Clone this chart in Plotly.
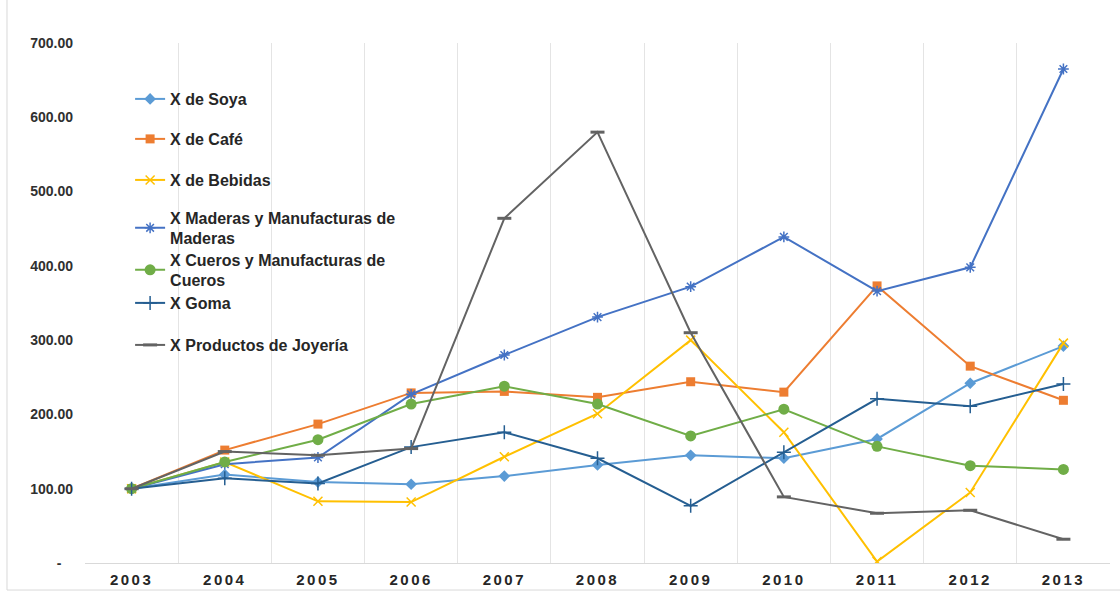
import plotly.graph_objects as go

# Years on the category axis
years = ["2003", "2004", "2005", "2006", "2007", "2008", "2009", "2010", "2011", "2012", "2013"]

# Export index series (2003 = 100)
soya = [100, 119, 109, 106, 117, 132, 145, 141, 167, 242, 292]
cafe = [100, 152, 187, 229, 231, 223, 244, 230, 373, 265, 219]
bebidas = [100, 136, 83, 82, 143, 201, 300, 176, 2, 95, 296]
maderas = [100, 133, 142, 227, 280, 331, 372, 439, 366, 398, 665]
cueros = [100, 136, 166, 214, 238, 214, 171, 207, 157, 131, 126]
goma = [100, 114, 107, 156, 176, 141, 77, 149, 221, 211, 241]
joyeria = [100, 150, 145, 154, 464, 580, 310, 89, 67, 71, 32]

# Y axis ticks
y_ticks = [0, 100, 200, 300, 400, 500, 600, 700]
y_tick_labels = ["-\u00a0\u00a0\u00a0", "100.00", "200.00", "300.00", "400.00", "500.00", "600.00", "700.00"]

series = [
    ("X de Soya", soya, "#5B9BD5", "diamond", 9, 0),
    ("X de Café", cafe, "#ED7D31", "square", 9, 0),
    ("X de Bebidas", bebidas, "#FFC000", "x-thin-open", 9, 1.5),
    ("X Maderas y Manufacturas de<br>Maderas", maderas, "#4472C4", "asterisk-open", 9, 1.5),
    ("X Cueros y Manufacturas de<br>Cueros", cueros, "#70AD47", "circle", 11, 0),
    ("X Goma", goma, "#255E91", "cross-thin-open", 10, 1.5),
    ("X Productos de Joyería", joyeria, "#636363", "line-ew-open", 10, 3),
]

# vertical centre of each legend entry (paper coordinates)
legend_y = [0.8923, 0.8154, 0.7365, 0.6442, 0.5635, 0.5000, 0.4192]

fig = go.Figure()
legend_layouts = {}
for i, (name, vals, color, symbol, size, lw) in enumerate(series):
    key = "legend" if i == 0 else f"legend{i + 1}"
    fig.add_trace(go.Scatter(
        x=years, y=vals, name=name, mode="lines+markers",
        line=dict(color=color, width=2),
        marker=dict(symbol=symbol, size=size, color=color,
                    line=dict(color=color, width=lw)),
        legend=key,
    ))
    legend_layouts[key] = dict(
        x=0.044, xanchor="left", y=legend_y[i], yanchor="middle",
        bgcolor="rgba(0,0,0,0)", itemwidth=30,
        font=dict(family="Liberation Sans, Arial, sans-serif", size=16,
                  color="#262626", weight="bold"),
    )

fig.update_layout(
    width=1120, height=592,
    margin=dict(l=85, r=10, t=43, b=29, autoexpand=False),
    paper_bgcolor="white", plot_bgcolor="white",
    showlegend=True,
    **legend_layouts,
    xaxis=dict(
        type="category", tickson="boundaries", range=[-0.5, 10.5],
        automargin=False,
        showgrid=True, gridcolor="#E4E4E4", gridwidth=1,
        showline=True, linecolor="#D9D9D9", linewidth=1,
        ticks="", ticklabelstandoff=3,
        tickfont=dict(family="Liberation Sans, Arial, sans-serif", size=15,
                      color="#262626", weight="bold"),
        zeroline=False,
    ),
    yaxis=dict(
        range=[0, 700], tickvals=y_ticks, ticktext=y_tick_labels,
        automargin=False,
        showgrid=False, zeroline=False, showline=False,
        ticks="", ticklabelstandoff=11,
        tickfont=dict(family="Liberation Sans, Arial, sans-serif", size=14,
                      color="#303030", weight="bold"),
    ),
    shapes=[dict(type="rect", xref="paper", yref="paper",
                 x0=-0.0761, x1=1.05, y0=-0.052, y1=1.2,
                 line=dict(color="#D9D9D9", width=1), layer="below")],
)

# spaced-out year labels on the horizontal axis
spacing_js = """
var gd = document.getElementById('{plot_id}');
function spaceYears() {
  document.querySelectorAll('.xtick text').forEach(function (t) {
    t.style.letterSpacing = '2.5px';
  });
}
spaceYears();
gd.on('plotly_afterplot', spaceYears);
"""

fig.write_html("out.html", post_script=spacing_js)
